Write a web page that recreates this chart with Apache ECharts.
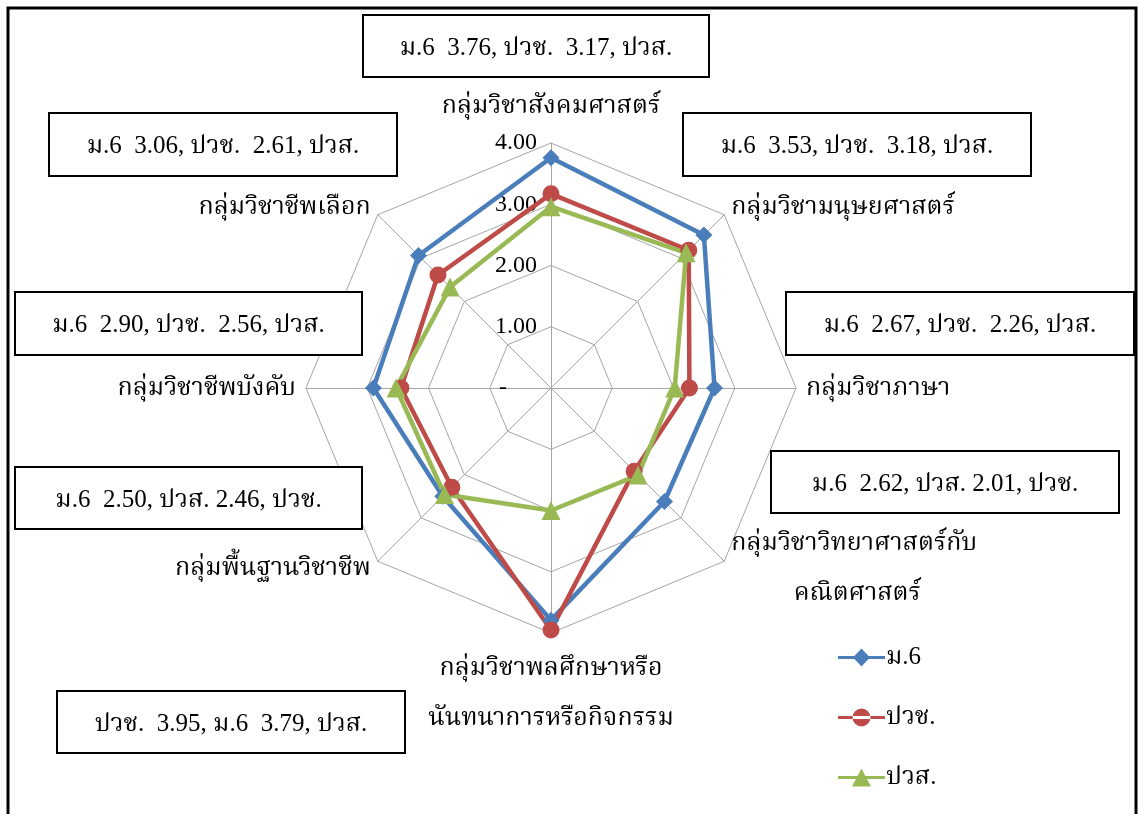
<!DOCTYPE html>
<html>
<head>
<meta charset="utf-8">
<script src="https://cdn.jsdelivr.net/npm/echarts@6/dist/echarts.min.js"></script>
<style>
  html, body { margin: 0; padding: 0; background: #fff; }
  #chart { width: 1138px; height: 814px; }
</style>
</head>
<body>
<div id="chart"></div>
<script>
// categories counterclockwise from the top (echarts radar order)
var categories = [
    'กลุ่มวิชาสังคมศาสตร์',
    'กลุ่มวิชาชีพเลือก',
    'กลุ่มวิชาชีพบังคับ',
    'กลุ่มพื้นฐานวิชาชีพ',
    'กลุ่มวิชาพลศึกษาหรือ\nนันทนาการหรือกิจกรรม',
    'กลุ่มวิชาวิทยาศาสตร์กับ\n          คณิตศาสตร์',
    'กลุ่มวิชาภาษา',
    'กลุ่มวิชามนุษยศาสตร์'
];
var seriesNames = ['ม.6', 'ปวช.', 'ปวส.'];
var m6   = [3.76, 3.06, 2.90, 2.50, 3.79, 2.62, 2.67, 3.53];
var pvch = [3.17, 2.61, 2.45, 2.29, 3.95, 1.92, 2.26, 3.18];
var pvs  = [2.96, 2.33, 2.53, 2.46, 2.00, 2.01, 2.02, 3.12];

// data label boxes copied from the original chart
var boxTexts = [
    'ม.6  3.76, ปวช.  3.17, ปวส.',
    'ม.6  3.06, ปวช.  2.61, ปวส.',
    'ม.6  3.53, ปวช.  3.18, ปวส.',
    'ม.6  2.90, ปวช.  2.56, ปวส.',
    'ม.6  2.67, ปวช.  2.26, ปวส.',
    'ม.6  2.50, ปวส. 2.46, ปวช.',
    'ม.6  2.62, ปวส. 2.01, ปวช.',
    'ปวช.  3.95, ม.6  3.79, ปวส.'
];
var boxRects = [
    [363, 15, 346, 62],
    [49, 113, 348, 63],
    [683, 113, 348, 63],
    [15, 292, 347, 63],
    [786, 292, 348, 63],
    [15, 467, 347, 62],
    [771, 451, 348, 62],
    [57, 691, 348, 62]
];

var FONT = "'Liberation Serif', 'Noto Serif Thai', 'Noto Sans Thai', 'Tlwg Typo', serif";
var colors = ['#4A7EBB', '#BE4B48', '#98B954'];
var symbols = ['diamond', 'circle', 'triangle'];

var legendIcons = [
    'path://M0 7.5L47 7.5L47 10.5L0 10.5Z M23.5 0L32 9L23.5 18L15 9Z',
    'path://M0 7.5L47 7.5L47 10.5L0 10.5Z M14.5 9A9 9 0 1 0 32.5 9A9 9 0 1 0 14.5 9Z',
    'path://M0 7.5L47 7.5L47 10.5L0 10.5Z M23.5 0L33 18L14 18Z'
];

var myChart = echarts.init(document.getElementById('chart'));

var graphics = [
    {
        type: 'rect',
        shape: { x: 8, y: 8, width: 1128, height: 830 },
        style: { fill: 'none', stroke: '#000', lineWidth: 3 },
        z: 10
    }
];
boxRects.forEach(function (r, i) {
    graphics.push({
        type: 'rect',
        shape: { x: r[0], y: r[1], width: r[2], height: r[3] },
        style: { fill: '#fff', stroke: '#000', lineWidth: 2 },
        z: 10
    });
    graphics.push({
        type: 'text',
        x: r[0] + r[2] / 2,
        y: r[1] + r[3] / 2 + 2,
        style: {
            text: boxTexts[i],
            fill: '#000',
            font: '25px ' + FONT,
            align: 'center',
            verticalAlign: 'middle'
        },
        z: 11
    });
});

var indicators = categories.map(function (c, i) {
    var ind = { name: c, min: 0, max: 4 };
    if (i === 0) {
        ind.axisLabel = {
            show: true,
            color: '#000',
            fontSize: 24,
            fontFamily: FONT,
            margin: 14,
            formatter: function (v) { return v === 0 ? '-     ' : v.toFixed(2); }
        };
    }
    return ind;
});

var allData = [m6, pvch, pvs];

option = {
    backgroundColor: '#fff',
    animation: false,
    legend: {
        orient: 'vertical',
        left: 833,
        top: 640,
        itemWidth: 47,
        itemHeight: 18,
        itemGap: 35,
        textStyle: { color: '#000', fontSize: 25, fontFamily: FONT, padding: [0, 0, 0, -4] },
        data: seriesNames.map(function (n, i) {
            return { name: n, icon: legendIcons[i] };
        })
    },
    radar: {
        center: [551, 388],
        radius: 245,
        startAngle: 90,
        splitNumber: 4,
        shape: 'polygon',
        nameGap: 10,
        indicator: indicators,
        axisName: {
            color: '#000',
            fontSize: 25,
            fontFamily: FONT,
            lineHeight: 50
        },
        axisLine: { lineStyle: { color: '#a6a6a6', width: 1 } },
        splitLine: { lineStyle: { color: '#a6a6a6', width: 1 } },
        splitArea: { show: false }
    },
    series: [
        {
            type: 'radar',
            data: allData.map(function (vals, i) {
                return {
                    name: seriesNames[i],
                    value: vals,
                    symbol: symbols[i],
                    symbolSize: i === 2 ? 19 : 17,
                    lineStyle: { color: colors[i], width: 4.5 },
                    itemStyle: { color: colors[i] }
                };
            })
        }
    ],
    graphic: graphics
};

myChart.setOption(option);
</script>
</body>
</html>
